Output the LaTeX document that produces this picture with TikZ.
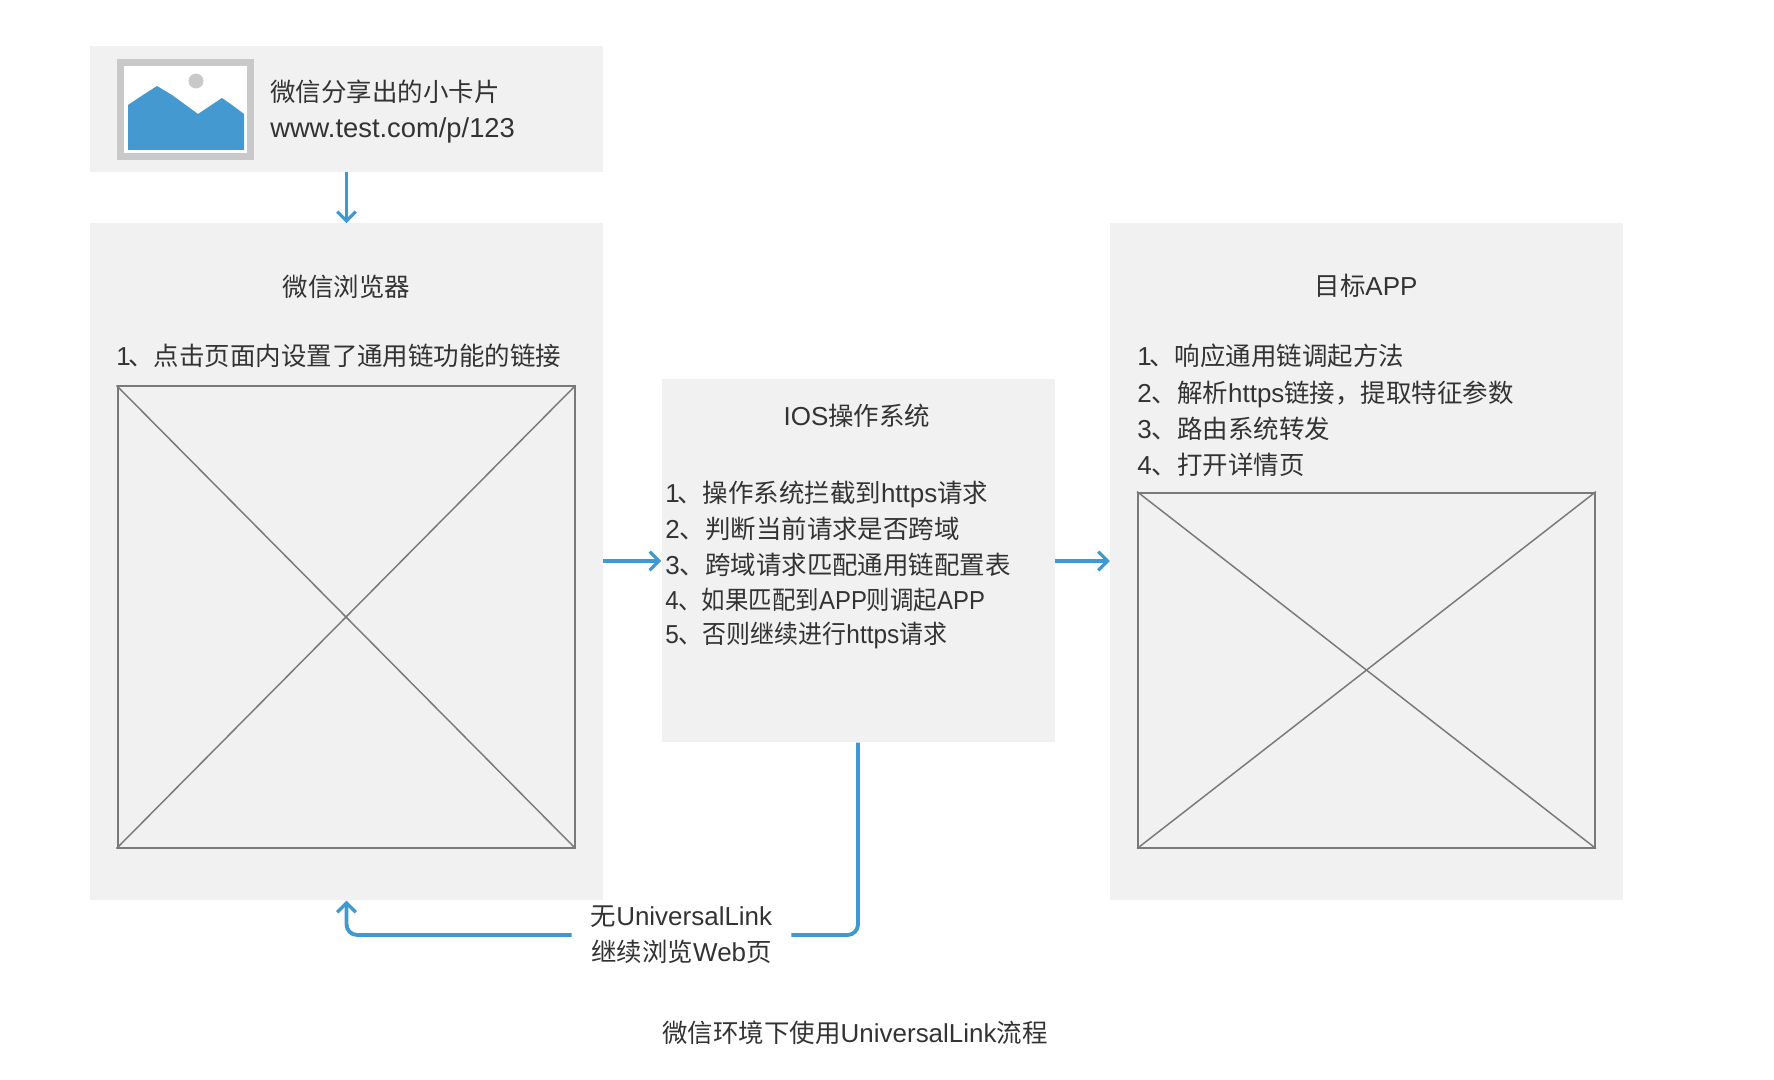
\documentclass[tikz,border=0pt]{standalone}
\usepackage{fontspec}
\setmainfont[Scale=1.02]{Liberation Sans}
\newfontfamily\cn{Noto Sans CJK SC}
\newcommand{\zh}[1]{{\cn #1}}
\usetikzlibrary{arrows.meta,positioning}
\definecolor{cardgray}{HTML}{F1F1F1}
\definecolor{flowblue}{HTML}{4099CE}
\definecolor{wiregray}{HTML}{797979}
\definecolor{framegray}{HTML}{C9C9C9}
\definecolor{mountblue}{HTML}{4499D0}
\definecolor{inkgray}{HTML}{333333}

\begin{document}
\begin{tikzpicture}[x=.75pt, y=-.75pt,
    >={Straight Barb[length=7pt,width=14pt,line width=2.4pt]},
    every node/.append style={align=left, inner sep=0pt, text=inkgray,
      font=\fontsize{19.1}{27.2}\selectfont},
    card/.style={fill=cardgray, minimum width=#1},
    wire/.style={draw=wiregray, line width=1.5pt, minimum width=342.75pt},
    diag/.style={draw=wiregray, line width=1.1pt},
    flow/.style={draw=flowblue, line width=2.4pt, rounded corners=8pt},
    flowback/.style={flow, line width=2.9pt}]
   \useasboundingbox (0,0) rectangle (1774,1080);
   % the four cards
   \node [card=384.75pt, minimum height=94.5pt] (share) at (346.5,109) {};
   \node [card=384.75pt, minimum height=507.75pt, below=38.2pt of share] (browser) {};
   \node [card=294.75pt, minimum height=272.25pt, right=43.5pt of browser, yshift=.75pt] (ios) {};
   \node [card=384.75pt, minimum height=507.75pt, right=41.25pt of ios, yshift=-.75pt] (target) {};
   % picture icon
   \node [fill=white, draw=framegray, line width=5.25pt, minimum width=97.5pt,
          minimum height=70pt] (icon) at (185.5,109.4) {};
   \fill [mountblue] (128,105) -- (143,95) -- (157,86) -- (172,95) -- (183,103) -- (198,114)
      -- (222,98) -- (232,105) -- (244,114) -- (244,150) -- (128,150) -- cycle;
   \fill [framegray] (196,81) circle (5.6pt);
   % share text
   \node [anchor=west] (sharetxt) at (270,111.2) {\zh{微信分享出的小卡片}\\
      {\fontsize{20.1}{27.2}\selectfont www.test.com/p/123}};
   % browser
   \node (browsertitle) at (346.5,287) {\zh{微信浏览器}};
   \node [anchor=west] (browsertxt) at (116,356) {1\kern-1.8pt\zh{、点击页面内设置了通用链功能的链接}};
   \node [wire, minimum height=345.75pt] (shota) at (346,617) {};
   \draw [diag] (shota.north west) -- (shota.south east);
   \draw [diag] (shota.north east) -- (shota.south west);
   % ios
   \node (iostitle) at (857,416) {IOS\zh{操作系统}};
   \node [anchor=west] (iostxt) at (665,564.5) {1\kern-1.8pt\zh{、操作系统拦截到}https\zh{请求}\\
      2\zh{、判断当前请求是否跨域}\\
      3\zh{、跨域请求匹配通用链配置表}\\[-.8pt]
      \scalebox{.92}[1]{4\zh{、如果匹配到}APP\zh{则调起}APP}\\[-2.2pt]
      \scalebox{.94}[1]{5\zh{、否则继续进行}https\zh{请求}}};
   % target
   \node (targettitle) at (1366,286) {\zh{目标}APP};
   \node [anchor=west] (targettxt) at (1137,410.5) {1\kern-1.8pt\zh{、响应通用链调起方法}\\
      2\zh{、解析}https\zh{链接，提取特征参数}\\
      3\zh{、路由系统转发}\\
      4\zh{、打开详情页}};
   \node [wire, minimum height=266.25pt] (shotb) at (1366.5,670.1) {};
   \draw [diag] (shotb.north west) -- (shotb.south east);
   \draw [diag] (shotb.north east) -- (shotb.south west);
   % return label and caption
   \node [align=center, minimum width=164.25pt, fill=white] (back) at (681.5,935)
      {\zh{无}UniversalLink\\\zh{继续浏览}Web\zh{页}};
   \node (caption) at (855,1033) {\zh{微信环境下使用}UniversalLink\zh{流程}};
   % arrows
   \draw [flow, ->] (share) -- (browser);
   \draw [flow, ->] (browser.east |- ios) -- (ios);
   \draw [flow, ->] (ios) -- (ios -| target.west);
   \draw [flowback] (ios) |- (back);
   \draw [flowback, ->] (back) -| (browser);
\end{tikzpicture}
\end{document}
